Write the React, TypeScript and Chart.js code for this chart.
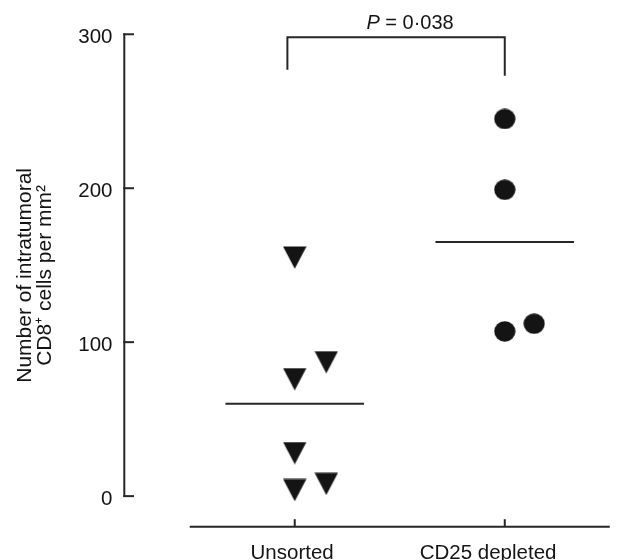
import React, { useEffect, useRef } from "react";
import { Chart, registerables } from "chart.js";

Chart.register(...registerables);

// ---- data ----
const categories = ["Unsorted", "CD25 depleted"];
const unsortedValues = [155, 87, 76, 28, 4, 8];
const unsortedJitter = [0, 0.15, 0, 0, 0, 0.15];
const depletedValues = [245, 199, 107, 112];
const depletedJitter = [0, 0, 0, 0.14];
const groupMeans = [60, 165];
const yTicks = [0, 100, 200, 300];
const yTitle = ["Number of intratumoral", "CD8\u207A cells per mm\u00B2"];
const pLetter = "P";
const pValueText = " = 0\u00B7038";
const bracketX = [0.965, 2];
const bracketTop = 298;
const bracketEnds = [277, 273];

// ---- styling ----
const FONT = "'Liberation Sans', Arial, Helvetica, sans-serif";
const INK = "#141414";
const LINE = "#262626";
const meanHalfWidth = 0.33;
const xLabelShift = [-2.6, -16.7];

const customAxes = {
  id: "customAxes",
  afterDraw(chart: any) {
    const { ctx, chartArea } = chart;
    const xs = chart.scales.x;
    const ys = chart.scales.y;
    ctx.save();
    ctx.strokeStyle = LINE;
    ctx.lineWidth = 2;
    ctx.lineCap = "butt";
    // y axis line
    const yAxisX = chartArea.left + 0.3;
    ctx.beginPath();
    ctx.moveTo(yAxisX, ys.getPixelForValue(yTicks[0]) + 1);
    ctx.lineTo(yAxisX, ys.getPixelForValue(yTicks[yTicks.length - 1]) - 1);
    ctx.stroke();
    // y tick marks (pointing inward)
    yTicks.forEach((v) => {
      const py = ys.getPixelForValue(v);
      ctx.beginPath();
      ctx.moveTo(yAxisX - 1, py);
      ctx.lineTo(yAxisX + 9.7, py);
      ctx.stroke();
    });
    // x axis line
    const xAxisY = chartArea.bottom - 0.3;
    ctx.beginPath();
    ctx.moveTo(xs.getPixelForValue(0.5), xAxisY);
    ctx.lineTo(xs.getPixelForValue(categories.length + 0.5), xAxisY);
    ctx.stroke();
    // x tick marks (pointing up) and labels
    ctx.fillStyle = INK;
    ctx.font = `20.5px ${FONT}`;
    ctx.textAlign = "center";
    ctx.textBaseline = "alphabetic";
    categories.forEach((c, i) => {
      const px = xs.getPixelForValue(i + 1);
      ctx.beginPath();
      ctx.moveTo(px, xAxisY);
      ctx.lineTo(px, xAxisY - 7.5);
      ctx.stroke();
      ctx.fillText(c, px + xLabelShift[i], chartArea.bottom + 32);
    });
    // significance text
    const midX = xs.getPixelForValue((bracketX[0] + bracketX[1]) / 2) + 14;
    const baseY = ys.getPixelForValue(bracketTop) - 8;
    ctx.font = `italic 20px ${FONT}`;
    const wP = ctx.measureText(pLetter).width;
    ctx.font = `20px ${FONT}`;
    const wV = ctx.measureText(pValueText).width;
    const startX = midX - (wP + wV) / 2;
    ctx.textAlign = "left";
    ctx.font = `italic 20px ${FONT}`;
    ctx.fillText(pLetter, startX, baseY);
    ctx.font = `20px ${FONT}`;
    ctx.fillText(pValueText, startX + wP, baseY);
    ctx.restore();
  },
};

export default function App() {
  const ref = useRef<HTMLCanvasElement>(null);

  useEffect(() => {
    const canvas = ref.current;
    if (!canvas) return;

    const tri = document.createElement("canvas");
    tri.width = 24;
    tri.height = 23;
    const tc = tri.getContext("2d")!;
    tc.fillStyle = "#141414";
    tc.beginPath();
    tc.moveTo(0.3, 0.5);
    tc.lineTo(23.7, 0.5);
    tc.lineTo(12, 22.8);
    tc.closePath();
    tc.fill();

    const dot = document.createElement("canvas");
    dot.width = 22;
    dot.height = 21;
    const dc = dot.getContext("2d")!;
    dc.fillStyle = "#141414";
    dc.beginPath();
    dc.ellipse(11, 10.5, 10.6, 10.2, 0, 0, Math.PI * 2);
    dc.fill();

    const meanLine = (i: number) => ({
      label: `${categories[i]} mean`,
      data: [
        { x: i + 1 - meanHalfWidth, y: groupMeans[i] },
        { x: i + 1 + meanHalfWidth, y: groupMeans[i] },
      ],
      showLine: true,
      borderColor: LINE,
      borderWidth: 2,
      pointRadius: 0,
      borderCapStyle: "butt",
      clip: false,
    });

    const chart = new Chart(canvas, {
      type: "scatter",
      data: {
        datasets: [
          meanLine(0) as any,
          meanLine(1) as any,
          {
            label: "bracket",
            data: [
              { x: bracketX[0], y: bracketEnds[0] },
              { x: bracketX[0], y: bracketTop },
              { x: bracketX[1], y: bracketTop },
              { x: bracketX[1], y: bracketEnds[1] },
            ],
            showLine: true,
            borderColor: LINE,
            borderWidth: 2,
            pointRadius: 0,
            borderJoinStyle: "miter",
            borderCapStyle: "butt",
            clip: false,
          } as any,
          {
            label: categories[0],
            data: unsortedValues.map((v, i) => ({ x: 1 + unsortedJitter[i], y: v })),
            pointStyle: tri as any,
            pointRadius: 12,
            showLine: false,
            clip: false,
          } as any,
          {
            label: categories[1],
            data: depletedValues.map((v, i) => ({ x: 2 + depletedJitter[i], y: v })),
            pointStyle: dot as any,
            pointRadius: 11,
            showLine: false,
            clip: false,
          } as any,
        ],
      },
      options: {
        animation: false,
        responsive: false,
        devicePixelRatio: 1,
        events: [],
        layout: { padding: { left: 0, right: 0, top: 22, bottom: 0 } },
        plugins: {
          legend: { display: false },
          tooltip: { enabled: false },
        },
        scales: {
          x: {
            type: "linear",
            min: 0.187,
            max: 2.482,
            grid: { display: false, drawTicks: false },
            border: { display: false },
            ticks: { display: false },
            afterFit: (s: any) => {
              s.height = 33;
            },
          },
          y: {
            type: "linear",
            min: -20.06,
            max: 306.8,
            grid: { display: false, drawTicks: false },
            border: { display: false },
            afterBuildTicks: (s: any) => {
              s.ticks = yTicks.map((v) => ({ value: v }));
            },
            afterFit: (s: any) => {
              s.width = 124;
            },
            ticks: {
              color: INK,
              font: { family: FONT, size: 20.5 },
              padding: 11.5,
              labelOffset: 3,
              callback: (v: any) => String(v),
            },
            title: {
              display: true,
              text: yTitle,
              color: INK,
              font: { family: FONT, size: 21, lineHeight: 0.97 },
              padding: { top: 15, bottom: 0 },
            },
          },
        },
      },
      plugins: [customAxes],
    });

    return () => chart.destroy();
  }, []);

  return (
    <div style={{ position: "fixed", left: 0, top: 0, width: 619, height: 560, background: "#fff" }}>
      <canvas ref={ref} width={619} height={560} style={{ width: 619, height: 560, display: "block" }} />
    </div>
  );
}
